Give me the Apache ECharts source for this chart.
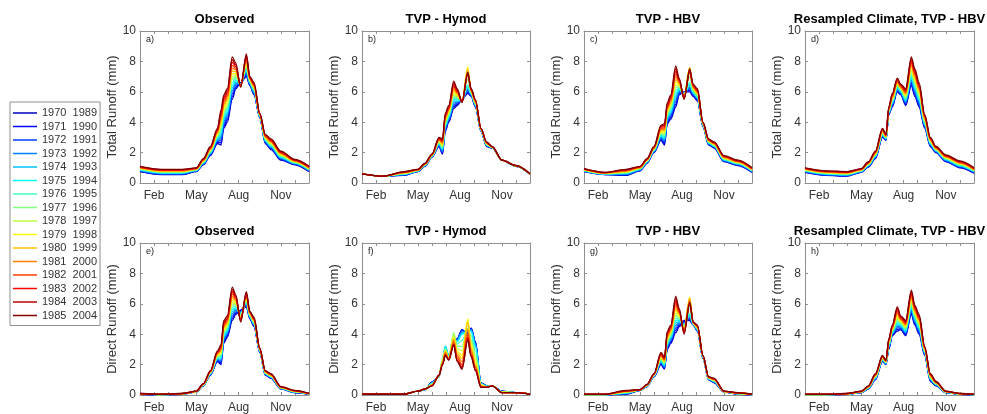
<!DOCTYPE html>
<html><head><meta charset="utf-8">
<script src="https://cdn.jsdelivr.net/npm/echarts@6/dist/echarts.min.js"></script>
<style>html,body{margin:0;padding:0;background:#fff}#c{width:987px;height:414px}</style>
</head><body><div id="c"></div>
<script>
// x positions in months since 1 Jan (0 = Jan 1, 12 = Dec 31)
const months = [0,1.5,3,4,4.5,5,5.5,5.75,5.95,6.2,6.55,6.8,7.15,7.55,7.8,8.1,8.5,8.9,9.3,10,11,12];
const monthLabels = {1:'Feb',4:'May',7:'Aug',10:'Nov'};
const windows = ['1970  1989','1971  1990','1972  1991','1973  1992','1974  1993','1975  1994','1976  1995','1977  1996','1978  1997','1979  1998','1980  1999','1981  2000','1982  2001','1983  2002','1984  2003','1985  2004'];
const titles = ['Observed','TVP - Hymod','TVP - HBV','Resampled Climate, TVP - HBV','Observed','TVP - Hymod','TVP - HBV','Resampled Climate, TVP - HBV'];
const tags = ['a)','b)','c)','d)','e)','f)','g)','h)'];
const yNames = ['Total Runoff (mm)','Direct Runoff (mm)'];

const totalObserved = [
[.75,.55,.55,.75,1.2,1.8,2.6,2.5,3.6,4.0,5.5,6.2,6.6,7.0,6.4,5.8,4.3,2.6,2.2,1.5,1.2,.75],
[.77,.57,.57,.77,1.23,1.84,2.67,2.65,3.75,4.15,5.69,6.31,6.58,7.1,6.44,5.85,4.32,2.64,2.25,1.54,1.22,.77],
[.8,.6,.6,.78,1.25,1.88,2.73,2.81,3.89,4.29,5.87,6.43,6.56,7.2,6.48,5.91,4.34,2.68,2.29,1.58,1.25,.8],
[.82,.62,.62,.8,1.28,1.92,2.8,2.96,4.04,4.44,6.06,6.54,6.54,7.3,6.52,5.96,4.36,2.72,2.34,1.62,1.27,.82],
[.84,.64,.64,.82,1.31,1.96,2.87,3.11,4.19,4.59,6.25,6.65,6.52,7.4,6.56,6.01,4.38,2.76,2.39,1.66,1.29,.84],
[.87,.67,.67,.83,1.33,2.0,2.93,3.27,4.33,4.73,6.43,6.77,6.5,7.5,6.6,6.07,4.4,2.8,2.43,1.7,1.32,.87],
[.89,.69,.69,.85,1.36,2.04,3.0,3.42,4.48,4.88,6.62,6.88,6.48,7.6,6.64,6.12,4.42,2.84,2.48,1.74,1.34,.89],
[.91,.71,.71,.87,1.39,2.08,3.07,3.57,4.63,5.03,6.81,6.99,6.46,7.7,6.68,6.17,4.44,2.88,2.53,1.78,1.36,.91],
[.94,.74,.74,.88,1.41,2.12,3.13,3.73,4.77,5.17,6.99,7.11,6.44,7.8,6.72,6.23,4.46,2.92,2.57,1.82,1.39,.94],
[.96,.76,.76,.9,1.44,2.16,3.2,3.88,4.92,5.32,7.18,7.22,6.42,7.9,6.76,6.28,4.48,2.96,2.62,1.86,1.41,.96],
[.98,.78,.78,.92,1.47,2.2,3.27,4.03,5.07,5.47,7.37,7.33,6.4,8.0,6.8,6.33,4.5,3.0,2.67,1.9,1.43,.98],
[1.01,.81,.81,.93,1.49,2.24,3.33,4.19,5.21,5.61,7.55,7.45,6.38,8.1,6.84,6.39,4.52,3.04,2.71,1.94,1.46,1.01],
[1.03,.83,.83,.95,1.52,2.28,3.4,4.34,5.36,5.76,7.74,7.56,6.36,8.2,6.88,6.44,4.54,3.08,2.76,1.98,1.48,1.03],
[1.05,.85,.85,.97,1.55,2.32,3.47,4.49,5.51,5.91,7.93,7.67,6.34,8.3,6.92,6.49,4.56,3.12,2.81,2.02,1.5,1.05],
[1.08,.88,.88,.98,1.57,2.36,3.53,4.65,5.65,6.05,8.11,7.79,6.32,8.4,6.96,6.55,4.58,3.16,2.85,2.06,1.53,1.08],
[1.1,.9,.9,1.0,1.6,2.4,3.6,4.8,5.8,6.2,8.3,7.9,6.3,8.5,7.0,6.6,4.6,3.2,2.9,2.1,1.55,1.1]
];
const totalHymod = [
[.6,.45,.5,.75,1.1,1.7,2.4,1.9,3.4,4.0,4.9,5.1,5.5,5.9,5.7,5.0,3.4,2.4,2.3,1.5,1.1,.6],
[.6,.45,.52,.76,1.11,1.71,2.44,1.97,3.48,4.07,5.02,5.17,5.49,5.99,5.73,5.03,3.41,2.42,2.31,1.5,1.1,.6],
[.6,.45,.53,.77,1.13,1.73,2.48,2.03,3.56,4.15,5.14,5.25,5.47,6.09,5.77,5.07,3.43,2.44,2.31,1.5,1.11,.6],
[.6,.45,.55,.78,1.14,1.74,2.52,2.1,3.64,4.22,5.26,5.32,5.46,6.18,5.8,5.1,3.44,2.46,2.32,1.5,1.11,.6],
[.6,.45,.57,.79,1.15,1.75,2.56,2.17,3.72,4.29,5.38,5.39,5.45,6.27,5.83,5.13,3.45,2.48,2.33,1.5,1.11,.6],
[.6,.45,.58,.8,1.17,1.77,2.6,2.23,3.8,4.37,5.5,5.47,5.43,6.37,5.87,5.17,3.47,2.5,2.33,1.5,1.12,.6],
[.6,.45,.6,.81,1.18,1.78,2.64,2.3,3.88,4.44,5.62,5.54,5.42,6.46,5.9,5.2,3.48,2.52,2.34,1.5,1.12,.6],
[.6,.45,.62,.82,1.19,1.79,2.68,2.37,3.96,4.51,5.74,5.61,5.41,6.85,5.93,5.23,3.49,2.54,2.35,1.5,1.12,.6],
[.6,.45,.63,.83,1.21,1.81,2.72,2.43,4.04,4.59,5.86,5.69,5.39,7.35,5.97,5.27,3.51,2.56,2.35,1.5,1.13,.6],
[.6,.45,.65,.84,1.22,1.82,2.76,2.5,4.12,4.66,5.98,5.76,5.38,7.64,6.0,5.3,3.52,2.58,2.36,1.5,1.13,.6],
[.6,.45,.67,.85,1.23,1.83,2.8,2.57,4.2,4.73,6.1,5.83,5.37,7.53,6.03,5.33,3.53,2.6,2.37,1.5,1.13,.6],
[.6,.45,.68,.86,1.25,1.85,2.84,2.63,4.28,4.81,6.22,5.91,5.35,7.33,6.07,5.37,3.55,2.62,2.37,1.5,1.14,.6],
[.6,.45,.7,.87,1.26,1.86,2.88,2.7,4.36,4.88,6.34,5.98,5.34,7.22,6.1,5.4,3.56,2.64,2.38,1.5,1.14,.6],
[.6,.45,.72,.88,1.27,1.87,2.92,2.77,4.44,4.95,6.46,6.05,5.33,7.11,6.13,5.43,3.57,2.66,2.39,1.5,1.14,.6],
[.6,.45,.73,.89,1.29,1.89,2.96,2.83,4.52,5.03,6.58,6.13,5.31,7.21,6.17,5.47,3.59,2.68,2.39,1.5,1.15,.6],
[.6,.45,.75,.9,1.3,1.9,3.0,2.9,4.6,5.1,6.7,6.2,5.3,7.3,6.2,5.5,3.6,2.7,2.4,1.5,1.15,.6]
];
const totalHBV = [
[.75,.55,.5,.8,1.3,2.0,2.8,2.5,3.9,4.2,5.0,5.8,6.0,6.0,5.7,5.4,3.7,2.5,2.3,1.4,1.15,.7],
[.76,.56,.53,.82,1.32,2.03,2.87,2.59,3.99,4.31,5.18,5.87,5.97,6.1,5.75,5.45,3.72,2.53,2.33,1.43,1.17,.72],
[.78,.57,.55,.84,1.34,2.05,2.93,2.69,4.09,4.41,5.36,5.95,5.93,6.2,5.81,5.51,3.74,2.55,2.35,1.45,1.2,.74],
[.79,.58,.58,.86,1.36,2.08,3.0,2.78,4.18,4.52,5.54,6.02,5.9,6.3,5.86,5.56,3.76,2.58,2.38,1.48,1.22,.76],
[.8,.59,.61,.88,1.38,2.11,3.07,2.87,4.27,4.63,5.72,6.09,5.87,6.4,5.91,5.61,3.78,2.61,2.41,1.51,1.24,.78],
[.82,.6,.63,.9,1.4,2.13,3.13,2.97,4.37,4.73,5.9,6.17,5.83,6.5,5.97,5.67,3.8,2.63,2.43,1.53,1.27,.8],
[.83,.61,.66,.92,1.42,2.16,3.2,3.06,4.46,4.84,6.08,6.24,5.8,6.6,6.02,5.72,3.82,2.66,2.46,1.56,1.29,.82],
[.84,.62,.69,.94,1.44,2.19,3.27,3.15,4.55,4.95,6.26,6.31,5.77,7.0,6.07,5.77,3.84,2.69,2.49,1.59,1.31,.84],
[.86,.63,.71,.96,1.46,2.21,3.33,3.25,4.65,5.05,6.44,6.39,5.73,7.3,6.13,5.83,3.86,2.71,2.51,1.61,1.34,.86],
[.87,.64,.74,.98,1.48,2.24,3.4,3.34,4.74,5.16,6.62,6.46,5.7,7.6,6.18,5.88,3.88,2.74,2.54,1.64,1.36,.88],
[.88,.65,.77,1.0,1.5,2.27,3.47,3.43,4.83,5.27,6.8,6.53,5.67,7.6,6.23,5.93,3.9,2.77,2.57,1.67,1.38,.9],
[.9,.66,.79,1.02,1.52,2.29,3.53,3.53,4.93,5.37,6.98,6.61,5.63,7.5,6.29,5.99,3.92,2.79,2.59,1.69,1.41,.92],
[.91,.67,.82,1.04,1.54,2.32,3.6,3.62,5.02,5.48,7.16,6.68,5.6,7.4,6.34,6.04,3.94,2.82,2.62,1.72,1.43,.94],
[.92,.68,.85,1.06,1.56,2.35,3.67,3.71,5.11,5.59,7.34,6.75,5.57,7.3,6.39,6.09,3.96,2.85,2.65,1.75,1.45,.96],
[.94,.69,.87,1.08,1.58,2.37,3.73,3.81,5.21,5.69,7.52,6.83,5.53,7.4,6.45,6.15,3.98,2.87,2.67,1.77,1.48,.98],
[.95,.7,.9,1.1,1.6,2.4,3.8,3.9,5.3,5.8,7.7,6.9,5.5,7.5,6.5,6.2,4.0,2.9,2.7,1.8,1.5,1.0]
];
const totalResampled = [
[.7,.5,.45,.7,1.05,1.6,3.0,2.8,4.5,5.0,6.0,5.8,5.1,6.4,5.7,5.0,3.6,2.4,2.0,1.4,1.0,.65],
[.72,.52,.47,.72,1.07,1.63,3.04,2.83,4.53,5.06,6.06,5.85,5.17,6.53,5.82,5.11,3.66,2.44,2.03,1.43,1.03,.67],
[.74,.54,.49,.73,1.1,1.67,3.08,2.85,4.57,5.12,6.12,5.89,5.25,6.65,5.94,5.21,3.72,2.48,2.05,1.46,1.06,.7],
[.76,.56,.51,.75,1.12,1.7,3.12,2.88,4.6,5.18,6.18,5.94,5.32,6.78,6.06,5.32,3.78,2.52,2.08,1.49,1.09,.72],
[.78,.58,.53,.77,1.14,1.73,3.16,2.91,4.63,5.24,6.24,5.99,5.39,6.91,6.18,5.43,3.84,2.56,2.11,1.52,1.12,.74],
[.8,.6,.55,.78,1.17,1.77,3.2,2.93,4.67,5.3,6.3,6.03,5.47,7.03,6.3,5.53,3.9,2.6,2.13,1.55,1.15,.77],
[.82,.62,.57,.8,1.19,1.8,3.24,2.96,4.7,5.36,6.36,6.08,5.54,7.16,6.42,5.64,3.96,2.64,2.16,1.58,1.18,.79],
[.84,.64,.59,.82,1.21,1.83,3.28,2.99,4.73,5.42,6.42,6.13,5.61,7.29,6.54,5.75,4.02,2.68,2.19,1.61,1.21,.81],
[.86,.66,.61,.83,1.24,1.87,3.32,3.01,4.77,5.48,6.48,6.17,5.69,7.41,6.66,5.85,4.08,2.72,2.21,1.64,1.24,.84],
[.88,.68,.63,.85,1.26,1.9,3.36,3.04,4.8,5.54,6.54,6.22,5.76,7.54,6.78,5.96,4.14,2.76,2.24,1.67,1.27,.86],
[.9,.7,.65,.87,1.28,1.93,3.4,3.07,4.83,5.6,6.6,6.27,5.83,7.67,6.9,6.07,4.2,2.8,2.27,1.7,1.3,.88],
[.92,.72,.67,.88,1.31,1.97,3.44,3.09,4.87,5.66,6.66,6.31,5.91,7.79,7.02,6.17,4.26,2.84,2.29,1.73,1.33,.91],
[.94,.74,.69,.9,1.33,2.0,3.48,3.12,4.9,5.72,6.72,6.36,5.98,7.92,7.14,6.28,4.32,2.88,2.32,1.76,1.36,.93],
[.96,.76,.71,.92,1.35,2.03,3.52,3.15,4.93,5.78,6.78,6.41,6.05,8.05,7.26,6.39,4.38,2.92,2.35,1.79,1.39,.95],
[.98,.78,.73,.93,1.38,2.07,3.56,3.17,4.97,5.84,6.84,6.45,6.13,8.17,7.38,6.49,4.44,2.96,2.37,1.82,1.42,.98],
[1.0,.8,.75,.95,1.4,2.1,3.6,3.2,5.0,5.9,6.9,6.5,6.2,8.3,7.5,6.6,4.5,3.0,2.4,1.85,1.45,1.0]
];
const directObserved = [
[.05,0,.05,.2,.6,1.3,2.2,2.0,3.4,3.8,4.9,5.3,5.6,5.8,5.0,4.5,2.8,1.3,1.1,.4,.15,.05],
[.05,0,.05,.2,.61,1.32,2.25,2.09,3.5,3.89,5.05,5.39,5.55,5.87,5.03,4.54,2.82,1.32,1.12,.41,.16,.05],
[.06,.01,.06,.21,.62,1.34,2.29,2.17,3.6,3.99,5.19,5.47,5.49,5.93,5.07,4.58,2.84,1.34,1.14,.42,.17,.06],
[.06,.01,.06,.21,.63,1.36,2.34,2.26,3.7,4.08,5.34,5.56,5.44,6.0,5.1,4.62,2.86,1.36,1.16,.43,.18,.06],
[.06,.01,.06,.21,.64,1.38,2.39,2.35,3.8,4.17,5.49,5.65,5.39,6.07,5.13,4.66,2.88,1.38,1.18,.44,.19,.06],
[.07,.02,.07,.22,.65,1.4,2.43,2.43,3.9,4.27,5.63,5.73,5.33,6.13,5.17,4.7,2.9,1.4,1.2,.45,.2,.07],
[.07,.02,.07,.22,.66,1.42,2.48,2.52,4.0,4.36,5.78,5.82,5.28,6.2,5.2,4.74,2.92,1.42,1.22,.46,.21,.07],
[.07,.02,.07,.22,.67,1.44,2.53,2.61,4.1,4.45,5.93,5.91,5.23,6.27,5.23,4.78,2.94,1.44,1.24,.47,.22,.07],
[.08,.03,.08,.23,.68,1.46,2.57,2.69,4.2,4.55,6.07,5.99,5.17,6.33,5.27,4.82,2.96,1.46,1.26,.48,.23,.08],
[.08,.03,.08,.23,.69,1.48,2.62,2.78,4.3,4.64,6.22,6.08,5.12,6.4,5.3,4.86,2.98,1.48,1.28,.49,.24,.08],
[.08,.03,.08,.23,.7,1.5,2.67,2.87,4.4,4.73,6.37,6.17,5.07,6.47,5.33,4.9,3.0,1.5,1.3,.5,.25,.08],
[.09,.04,.09,.24,.71,1.52,2.71,2.95,4.5,4.83,6.51,6.25,5.01,6.53,5.37,4.94,3.02,1.52,1.32,.51,.26,.09],
[.09,.04,.09,.24,.72,1.54,2.76,3.04,4.6,4.92,6.66,6.34,4.96,6.6,5.4,4.98,3.04,1.54,1.34,.52,.27,.09],
[.09,.04,.09,.24,.73,1.56,2.81,3.13,4.7,5.01,6.81,6.43,4.91,6.67,5.43,5.02,3.06,1.56,1.36,.53,.28,.09],
[.1,.05,.1,.25,.74,1.58,2.85,3.21,4.8,5.11,6.95,6.51,4.85,6.73,5.47,5.06,3.08,1.58,1.38,.54,.29,.1],
[.1,.05,.1,.25,.75,1.6,2.9,3.3,4.9,5.2,7.1,6.6,4.8,6.8,5.5,5.1,3.1,1.6,1.4,.55,.3,.1]
];
const directHymod = [
[.05,.05,.05,.25,.35,.85,1.2,2.2,3.1,2.6,3.3,3.7,4.3,4.0,4.4,3.5,.8,.6,.6,.25,.15,.05],
[.05,.05,.05,.25,.35,.84,1.2,2.2,3.1,2.6,3.3,3.7,4.3,3.9,4.4,3.5,.8,.6,.6,.25,.15,.05],
[.05,.05,.05,.25,.36,.82,1.21,2.2,3.15,2.58,3.4,3.65,4.25,4.1,4.35,3.45,.78,.59,.6,.24,.15,.05],
[.05,.05,.05,.25,.36,.8,1.21,2.22,3.2,2.57,3.45,3.6,4.15,4.15,4.3,3.35,.76,.58,.6,.23,.15,.05],
[.05,.05,.05,.25,.37,.78,1.22,2.25,3.2,2.56,3.5,3.55,4.05,4.2,4.2,3.25,.74,.57,.6,.22,.15,.05],
[.05,.05,.05,.25,.37,.76,1.22,2.3,3.2,2.55,3.6,3.5,4.0,4.2,4.2,3.2,.72,.56,.6,.21,.15,.05],
[.05,.05,.05,.25,.37,.74,1.23,2.35,3.1,2.5,3.9,3.35,3.6,4.3,3.9,2.9,.7,.55,.6,.2,.15,.05],
[.05,.05,.05,.25,.38,.72,1.24,2.4,3.0,2.48,4.1,3.2,3.2,4.4,3.6,2.6,.68,.55,.6,.2,.15,.05],
[.05,.05,.05,.25,.38,.7,1.25,2.3,2.95,2.45,4.0,3.05,2.9,4.7,3.45,2.4,.66,.54,.6,.19,.15,.05],
[.05,.05,.05,.25,.38,.68,1.26,2.2,2.9,2.42,3.8,2.9,2.6,5.0,3.3,2.2,.64,.53,.6,.18,.15,.05],
[.05,.05,.05,.25,.39,.66,1.27,2.15,2.85,2.4,3.7,2.75,2.4,4.8,3.1,2.05,.6,.52,.6,.17,.15,.05],
[.05,.05,.05,.25,.39,.64,1.28,2.1,2.8,2.37,3.6,2.6,2.2,4.3,2.9,1.9,.58,.51,.6,.16,.15,.05],
[.05,.05,.05,.25,.4,.62,1.29,2.05,2.7,2.34,3.45,2.45,2.0,4.0,2.75,1.8,.55,.5,.6,.16,.15,.05],
[.05,.05,.05,.25,.4,.61,1.3,2.0,2.65,2.32,3.35,2.3,1.85,3.8,2.6,1.7,.52,.5,.6,.15,.15,.05],
[.05,.05,.05,.25,.4,.6,1.3,2.0,2.6,2.3,3.3,2.25,1.75,3.7,2.55,1.65,.5,.5,.6,.15,.15,.05],
[.05,.05,.05,.25,.4,.6,1.3,2.0,2.6,2.3,3.3,2.2,1.7,3.6,2.5,1.6,.5,.5,.6,.15,.15,.05]
];
const directHBV = [
[0,0,.05,.3,.55,1.2,2.0,1.7,3.0,3.4,4.1,4.5,4.9,4.9,4.6,4.2,2.4,1.0,.8,.2,.05,0],
[0,0,.07,.3,.56,1.21,2.05,1.75,3.08,3.48,4.26,4.58,4.84,4.98,4.61,4.23,2.41,1.01,.82,.2,.06,0],
[.01,.01,.08,.31,.57,1.23,2.11,1.81,3.16,3.56,4.42,4.66,4.78,5.06,4.63,4.25,2.43,1.03,.84,.21,.06,.01],
[.01,.01,.1,.31,.58,1.24,2.16,1.86,3.24,3.64,4.58,4.74,4.72,5.14,4.64,4.28,2.44,1.04,.86,.21,.07,.01],
[.01,.01,.12,.31,.59,1.25,2.21,1.91,3.32,3.72,4.74,4.82,4.66,5.22,4.65,4.31,2.45,1.05,.88,.21,.08,.01],
[.02,.02,.13,.32,.6,1.27,2.27,1.97,3.4,3.8,4.9,4.9,4.6,5.3,4.67,4.33,2.47,1.07,.9,.22,.08,.02],
[.02,.02,.15,.32,.61,1.28,2.32,2.02,3.48,3.88,5.06,4.98,4.54,5.38,4.68,4.36,2.48,1.08,.92,.22,.09,.02],
[.02,.02,.17,.32,.62,1.29,2.37,2.07,3.56,3.96,5.22,5.06,4.48,5.76,4.69,4.39,2.49,1.09,.94,.22,.1,.02],
[.03,.03,.18,.33,.63,1.31,2.43,2.13,3.64,4.04,5.38,5.14,4.42,6.14,4.71,4.41,2.51,1.11,.96,.23,.1,.03],
[.03,.03,.2,.33,.64,1.32,2.48,2.18,3.72,4.12,5.54,5.22,4.36,6.42,4.72,4.44,2.52,1.12,.98,.23,.11,.03],
[.03,.03,.22,.33,.65,1.33,2.53,2.23,3.8,4.2,5.7,5.3,4.3,6.4,4.73,4.47,2.53,1.13,1.0,.23,.12,.03],
[.04,.04,.23,.34,.66,1.35,2.59,2.29,3.88,4.28,5.86,5.38,4.24,6.28,4.75,4.49,2.55,1.15,1.02,.24,.12,.04],
[.04,.04,.25,.34,.67,1.36,2.64,2.34,3.96,4.36,6.02,5.46,4.18,6.16,4.76,4.52,2.56,1.16,1.04,.24,.13,.04],
[.04,.04,.27,.34,.68,1.37,2.69,2.39,4.04,4.44,6.18,5.54,4.12,6.04,4.77,4.55,2.57,1.17,1.06,.24,.14,.04],
[.05,.05,.28,.35,.69,1.39,2.75,2.45,4.12,4.52,6.34,5.62,4.06,6.02,4.79,4.57,2.59,1.19,1.08,.25,.14,.05],
[.05,.05,.3,.35,.7,1.4,2.8,2.5,4.2,4.6,6.5,5.7,4.0,6.1,4.8,4.6,2.6,1.2,1.1,.25,.15,.05]
];
const directResampled = [
[0,0,.05,.15,.4,1.0,2.2,2.0,3.0,3.9,4.2,4.3,3.9,5.3,4.6,4.0,2.6,.9,.6,.15,.05,0],
[0,0,.05,.16,.41,1.03,2.23,2.02,3.05,3.95,4.31,4.36,3.97,5.41,4.69,4.09,2.64,.93,.62,.16,.05,0],
[.01,.01,.06,.16,.43,1.05,2.25,2.04,3.09,3.99,4.41,4.42,4.03,5.51,4.77,4.17,2.68,.97,.64,.16,.06,.01],
[.01,.01,.06,.17,.44,1.08,2.28,2.06,3.14,4.04,4.52,4.48,4.1,5.62,4.86,4.26,2.72,1.0,.66,.17,.06,.01],
[.01,.01,.06,.18,.45,1.11,2.31,2.08,3.19,4.09,4.63,4.54,4.17,5.73,4.95,4.35,2.76,1.03,.68,.18,.06,.01],
[.02,.02,.07,.18,.47,1.13,2.33,2.1,3.23,4.13,4.73,4.6,4.23,5.83,5.03,4.43,2.8,1.07,.7,.18,.07,.02],
[.02,.02,.07,.19,.48,1.16,2.36,2.12,3.28,4.18,4.84,4.66,4.3,5.94,5.12,4.52,2.84,1.1,.72,.19,.07,.02],
[.02,.02,.07,.2,.49,1.19,2.39,2.14,3.33,4.23,4.95,4.72,4.37,6.05,5.21,4.61,2.88,1.13,.74,.2,.07,.02],
[.03,.03,.08,.2,.51,1.21,2.41,2.16,3.37,4.27,5.05,4.78,4.43,6.15,5.29,4.69,2.92,1.17,.76,.2,.08,.03],
[.03,.03,.08,.21,.52,1.24,2.44,2.18,3.42,4.32,5.16,4.84,4.5,6.26,5.38,4.78,2.96,1.2,.78,.21,.08,.03],
[.03,.03,.08,.22,.53,1.27,2.47,2.2,3.47,4.37,5.27,4.9,4.57,6.37,5.47,4.87,3.0,1.23,.8,.22,.08,.03],
[.04,.04,.09,.22,.55,1.29,2.49,2.22,3.51,4.41,5.37,4.96,4.63,6.47,5.55,4.95,3.04,1.27,.82,.22,.09,.04],
[.04,.04,.09,.23,.56,1.32,2.52,2.24,3.56,4.46,5.48,5.02,4.7,6.58,5.64,5.04,3.08,1.3,.84,.23,.09,.04],
[.04,.04,.09,.24,.57,1.35,2.55,2.26,3.61,4.51,5.59,5.08,4.77,6.69,5.73,5.13,3.12,1.33,.86,.24,.09,.04],
[.05,.05,.1,.24,.59,1.37,2.57,2.28,3.65,4.55,5.69,5.14,4.83,6.79,5.81,5.21,3.16,1.37,.88,.24,.1,.05],
[.05,.05,.1,.25,.6,1.4,2.6,2.3,3.7,4.6,5.8,5.2,4.9,6.9,5.9,5.3,3.2,1.4,.9,.25,.1,.05]
];

const panelData = [totalObserved,totalHymod,totalHBV,totalResampled,directObserved,directHymod,directHBV,directResampled];
const jet = ['#0000BF','#0000FF','#0040FF','#0080FF','#00BFFF','#00FFFF','#40FFBF','#80FF80','#BFFF40','#FFFF00','#FFBF00','#FF8000','#FF4000','#FF0000','#BF0000','#800000'];

const FONT = '"Liberation Sans", Arial, Helvetica, sans-serif';
const frame = '#8f8f8f', lab = '#333333';
const lefts = [140,362,584,805], widths = [169,168,168,169], tops = [31,243], H = 152;

const grid = [], xAxis = [], yAxis = [], series = [], graphic = [];
for (let p = 0; p < 8; p++) {
  const r = p >> 2, c = p & 3;
  grid.push({left: lefts[c], top: tops[r], width: widths[c], height: H, show: false});
  const tick = {inside: true, length: 3, lineStyle: {color: frame, width: 1}};
  const line = {show: true, onZero: false, lineStyle: {color: frame, width: 1}};
  xAxis.push({gridIndex: p, type: 'value', min: 0, max: 12, interval: 1, position: 'bottom',
    axisLine: line, axisTick: tick, splitLine: {show: false},
    axisLabel: {formatter: v => monthLabels[v] || '', color: lab, fontSize: 12, margin: 7, fontFamily: FONT}});
  xAxis.push({gridIndex: p, type: 'value', min: 0, max: 12, interval: 1, position: 'top',
    axisLine: line, axisTick: tick, splitLine: {show: false}, axisLabel: {show: false}});
  yAxis.push({gridIndex: p, type: 'value', min: 0, max: 10, interval: 2, position: 'left',
    name: yNames[r], nameLocation: 'middle', nameGap: 18,
    nameTextStyle: {fontSize: 13, color: lab, fontFamily: FONT},
    axisLine: line, axisTick: tick, splitLine: {show: false},
    axisLabel: {color: lab, fontSize: 12, margin: 4, fontFamily: FONT}});
  yAxis.push({gridIndex: p, type: 'value', min: 0, max: 10, interval: 2, position: 'right',
    axisLine: line, axisTick: tick, splitLine: {show: false}, axisLabel: {show: false}});
  for (let k = 0; k < 16; k++) {
    series.push({type: 'line', name: windows[k], xAxisIndex: 2 * p, yAxisIndex: 2 * p,
      data: months.map((m, i) => [m, panelData[p][k][i]]),
      symbol: 'none', smooth: 0.3, smoothMonotone: 'x', color: jet[k],
      lineStyle: {width: 1.3}, silent: true, animation: false});
  }
  const cx = lefts[c] + widths[c] / 2;
  graphic.push({type: 'text', x: cx, y: tops[r] - 12,
    style: {text: titles[p], font: 'bold 13px ' + FONT, fill: '#000', align: 'center', verticalAlign: 'middle'}});
  graphic.push({type: 'text', x: lefts[c] + 6, y: tops[r] + 9,
    style: {text: tags[p], font: '9px ' + FONT, fill: '#222', align: 'left', verticalAlign: 'middle'}});
}

const chart = echarts.init(document.getElementById('c'), null, {renderer: 'canvas'});
chart.setOption({
  animation: false,
  backgroundColor: '#fff',
  grid, xAxis, yAxis, series, graphic,
  legend: {data: windows, orient: 'vertical', left: 10, top: 102, icon: 'rect', itemWidth: 24, itemHeight: 1.5,
    itemGap: 1.5, padding: [5, 3, 4, 3], borderColor: frame, borderWidth: 1, backgroundColor: '#fff',
    selectedMode: false, textStyle: {fontSize: 11, lineHeight: 12, color: lab, fontFamily: FONT}}
});
</script></body></html>
